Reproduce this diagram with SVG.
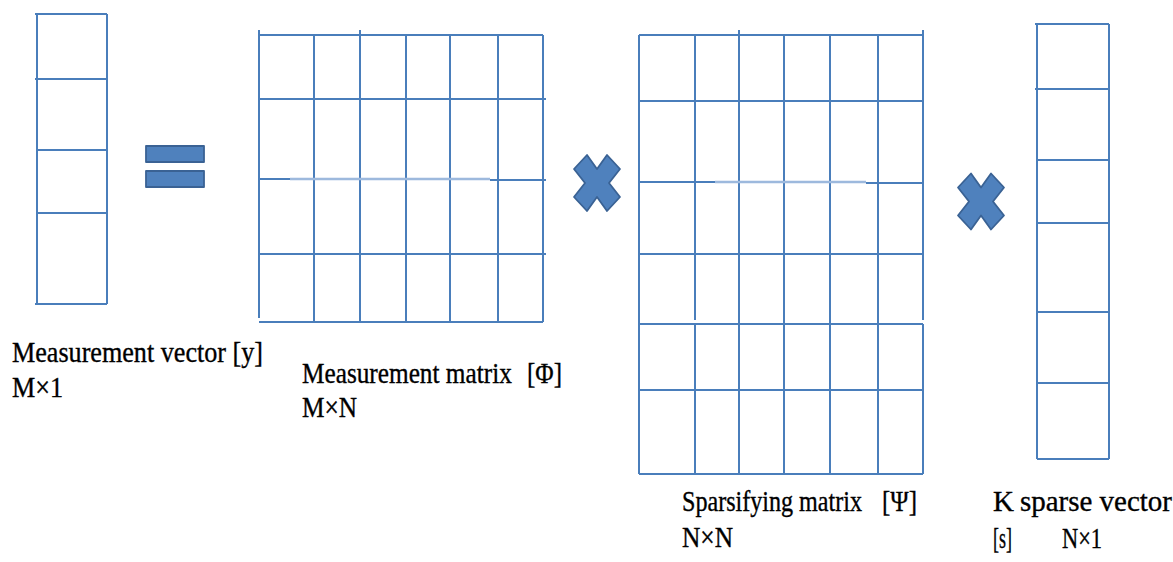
<svg xmlns="http://www.w3.org/2000/svg" xmlns:xlink="http://www.w3.org/1999/xlink" width="1173" height="562" viewBox="0 0 1173 562">
<style>
.grid{fill:none;stroke:#4A7EBB;stroke-width:2;stroke-linecap:butt}
.faint{fill:none;stroke:#9DB9DD;stroke-width:2.5}
.op{fill:#4F81BD;stroke:#3A6294;stroke-width:1.8;stroke-linejoin:round}
.lbl{font-family:'Liberation Serif','Times New Roman',Tinos,'DejaVu Serif',serif;font-size:29px;fill:#000;stroke:#000;stroke-width:0.35}
</style>
<defs>
<path id="mul" d="M0,-14 L10,-28 L23,-14 L12,0 L23,14 L10,28 L0,14 L-10,28 L-23,14 L-12,0 L-23,-14 L-10,-28 Z"/>
</defs>
<rect width="1173" height="562" fill="#fff"/>

<g id="vector-y">
<path class="grid" d="M37,14 V304 M107,14 V304 M35,14 H107 M35,79 H107 M37,150 H107 M37,213 H107 M35,304 H107"/>
</g>

<g id="equals">
<rect class="op" x="146" y="146" width="58" height="16"/>
<rect class="op" x="146" y="171" width="58" height="16"/>
</g>

<g id="matrix-phi">
<path class="grid" d="M259,30 V318 M314,35 V322 M360,30 V322 M406,35 V322 M450,35 V322 M498,35 V322 M543,35 V322
M259,35 H543 M259,99 H546 M259,254 H546 M259,322 H543
M259,179 H290 M490,180 H546"/>
<path class="faint" d="M290,179 H490"/>
</g>

<g id="times-1">
<use xlink:href="#mul" href="#mul" class="op" x="597" y="183"/>
</g>

<g id="matrix-psi">
<path class="grid" d="M639,35 V474 M695,35 V320 M695,324 V474 M739,30 V474 M784,35 V474 M830,35 V474 M878,35 V474 M923,30 V320 M923,324 V474
M639,35 H923 M639,101 H923 M639,254 H923 M639,324 H923 M639,390 H923 M639,474 H923
M639,182 H715 M866,183 H923"/>
<path class="faint" d="M715,182 H866"/>
</g>

<g id="times-2">
<use xlink:href="#mul" href="#mul" class="op" x="981" y="201.5"/>
</g>

<g id="vector-s">
<path class="grid" d="M1037,24 V459 M1109,24 V459 M1035,24 H1109 M1035,89 H1109 M1037,160 H1109 M1037,223 H1109 M1037,312 H1109 M1037,383 H1109 M1037,459 H1109"/>
</g>

<g id="label-y">
<text class="lbl" x="12" y="362" textLength="251" lengthAdjust="spacingAndGlyphs">Measurement vector [y]</text>
<text class="lbl" x="12" y="397" textLength="51" lengthAdjust="spacingAndGlyphs">M×1</text>
</g>

<g id="label-phi">
<text class="lbl" transform="translate(302,383) scale(0.872,1)">Measurement matrix</text>
<text class="lbl" x="527" y="383" textLength="35" lengthAdjust="spacingAndGlyphs">[Φ]</text>
<text class="lbl" x="302" y="417" textLength="55" lengthAdjust="spacingAndGlyphs">M×N</text>
</g>

<g id="label-psi">
<text class="lbl" transform="translate(682,511) scale(0.831,1)">Sparsifying matrix</text>
<text class="lbl" x="882" y="511" textLength="35" lengthAdjust="spacingAndGlyphs">[Ψ]</text>
<text class="lbl" x="682" y="547" textLength="51" lengthAdjust="spacingAndGlyphs">N×N</text>
</g>

<g id="label-s">
<text class="lbl" x="993" y="511">K</text>
<text class="lbl" x="1020" y="511" textLength="152" lengthAdjust="spacingAndGlyphs">sparse vector</text>
<text class="lbl" x="993" y="548" textLength="19" lengthAdjust="spacingAndGlyphs">[s]</text>
<text class="lbl" x="1062" y="548" textLength="40" lengthAdjust="spacingAndGlyphs">N×1</text>
</g>
</svg>
